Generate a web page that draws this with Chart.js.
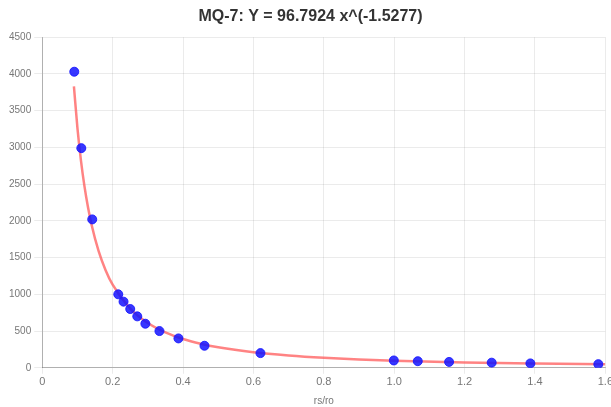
<!DOCTYPE html>
<html>
<head>
<meta charset="utf-8">
<script src="https://cdn.jsdelivr.net/npm/chart.js@4"></script>
<style>
  html, body { margin: 0; padding: 0; background: #fff; overflow: hidden; }
  #wrap { width: 615px; height: 407px; }
</style>
</head>
<body>
<div id="wrap"><canvas id="grafico"></canvas></div>
<script>
// Pontos medidos (rs/ro, ppm)
const medidosX = [0.091, 0.111, 0.142, 0.216, 0.231, 0.250, 0.270, 0.293, 0.333, 0.387, 0.461, 0.620, 0.999, 1.067, 1.156, 1.277, 1.387, 1.580];
const medidosY = [4030, 2990, 2020, 1000, 900, 800, 700, 600, 500, 400, 300, 200, 100, 90, 80, 70, 60, 50];

// Curva ajustada
const curvaX = [0.09, 0.10, 0.11, 0.12, 0.13, 0.14, 0.16, 0.18, 0.20, 0.25, 0.30, 0.35, 0.40, 0.45, 0.50, 0.60, 0.70, 0.80, 0.90, 1.0, 1.2, 1.4, 1.6];
const curvaY = [3832, 3262, 2820, 2469, 2185, 1951, 1591, 1329, 1131, 805, 609, 481, 392, 328, 279, 211, 167, 136, 114, 97, 73, 58, 47];

const titulo = 'MQ-7: Y = 96.7924 x^(-1.5277)';
const tituloEixoX = 'rs/ro';

const pontos = medidosX.map((x, i) => ({ x: x, y: medidosY[i] }));
const curva = curvaX.map((x, i) => ({ x: x, y: curvaY[i] }));

Chart.defaults.font.family = '"Liberation Sans", Arial, sans-serif';

const ctx = document.getElementById('grafico').getContext('2d');
new Chart(ctx, {
    type: 'scatter',
    data: {
        datasets: [{
            label: 'Medidos',
            data: pontos,
            backgroundColor: 'rgba(20, 20, 255, 0.85)',
            borderColor: 'rgba(20, 20, 255, 0.85)',
            pointRadius: 4.5,
            pointHoverRadius: 4.5,
            order: 1
        }, {
            label: 'Ajuste',
            data: curva,
            showLine: true,
            borderColor: 'rgba(255, 90, 90, 0.75)',
            borderWidth: 2.5,
            pointRadius: 0,
            cubicInterpolationMode: 'monotone',
            order: 2
        }]
    },
    options: {
        responsive: true,
        maintainAspectRatio: false,
        animation: false,
        layout: { padding: { left: 6, right: 0, top: 0, bottom: 0 } },
        plugins: {
            legend: { display: false },
            tooltip: { enabled: false },
            title: {
                display: true,
                text: titulo,
                color: '#333',
                font: { size: 16, weight: 'bold' },
                padding: { top: 7, bottom: 11 }
            }
        },
        scales: {
            x: {
                type: 'linear',
                min: 0,
                max: 1.6,
                ticks: {
                    stepSize: 0.2,
                    color: '#777',
                    font: { size: 11 },
                    padding: 2,
                    callback: v => v === 0 ? '0' : v.toFixed(1)
                },
                grid: { color: 'rgba(0,0,0,0.08)', tickLength: 6 },
                border: { color: 'rgba(0,0,0,0.25)' },
                title: { display: true, text: tituloEixoX, color: '#777', font: { size: 10 }, padding: { top: 4, bottom: 0 } }
            },
            y: {
                min: 0,
                max: 4500,
                ticks: {
                    stepSize: 500,
                    color: '#777',
                    font: { size: 10 },
                    callback: v => String(v)
                },
                grid: { color: 'rgba(0,0,0,0.08)', tickLength: 8 },
                border: { color: 'rgba(0,0,0,0.25)' }
            }
        }
    }
});
</script>
</body>
</html>
